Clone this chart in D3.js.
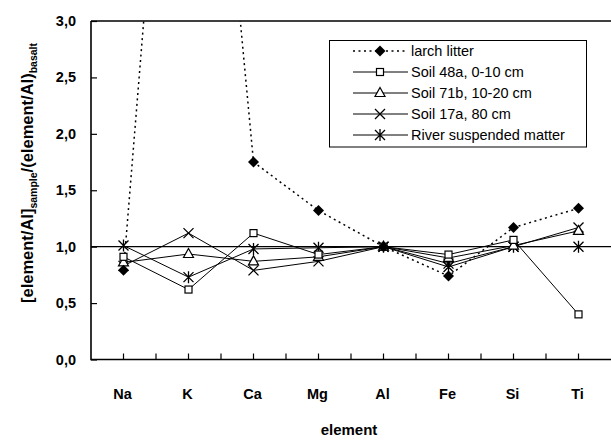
<!DOCTYPE html>
<html lang="en">
<head>
  <meta charset="UTF-8" />
  <title>Element ratios</title>
  <script src="https://d3js.org/d3.v7.min.js"></script>
  <style>
    body { margin: 0; padding: 0; background: #fff; }
    svg { display: block; font-family: "Liberation Sans", Arial, sans-serif; }
    .tick-label { font-size: 14.5px; font-weight: bold; }
    .legend-text { font-size: 14.5px; }
  </style>
</head>
<body>
  <svg id="chart" width="611" height="441"></svg>
  <script>
    const elements = ["Na", "K", "Ca", "Mg", "Al", "Fe", "Si", "Ti"];
    const seriesNames = ["larch litter", "Soil 48a, 0-10 cm", "Soil 71b, 10-20 cm", "Soil 17a, 80 cm", "River suspended matter"];
    const larchLitter = [0.79, 7.9, 1.75, 1.32, 1.0, 0.74, 1.17, 1.34];
    const soil48a = [0.91, 0.62, 1.12, 0.93, 1.0, 0.93, 1.06, 0.40];
    const soil71b = [0.86, 0.935, 0.87, 0.91, 1.0, 0.90, 1.01, 1.14];
    const soil17a = [0.83, 1.12, 0.79, 0.87, 1.0, 0.85, 1.0, 1.17];
    const river = [1.01, 0.73, 0.98, 0.99, 1.0, 0.82, 1.0, 1.0];
    const yTicks = [0, 0.5, 1, 1.5, 2, 2.5, 3];

    const series = [
      { name: seriesNames[0], values: larchLitter, marker: "diamond", dash: "2,3.5", width: 1.5 },
      { name: seriesNames[1], values: soil48a, marker: "square", dash: null, width: 1 },
      { name: seriesNames[2], values: soil71b, marker: "triangle", dash: null, width: 1 },
      { name: seriesNames[3], values: soil17a, marker: "cross", dash: null, width: 1 },
      { name: seriesNames[4], values: river, marker: "star", dash: null, width: 1 }
    ];

    const svg = d3.select("#chart");
    const plotLeft = 91, plotRight = 611, plotTop = 21, plotBottom = 359.5;

    const x = d3.scaleBand().domain(elements).range([plotLeft, plotRight]);
    const y = d3.scaleLinear().domain([0, 3]).range([plotBottom, plotTop]);
    const cx = d => x(d) + x.bandwidth() / 2;

    // markers drawn as small paths centred at 0,0
    function drawMarker(g, type) {
      if (type === "diamond") {
        g.append("path").attr("d", "M0,-5.5L5.5,0L0,5.5L-5.5,0Z").attr("fill", "#000");
      } else if (type === "square") {
        g.append("rect").attr("x", -3.5).attr("y", -3.5).attr("width", 7).attr("height", 7)
          .attr("fill", "#fff").attr("stroke", "#000").attr("stroke-width", 1.2);
      } else if (type === "triangle") {
        g.append("path").attr("d", "M0,-5.5L5,3.5L-5,3.5Z")
          .attr("fill", "#fff").attr("stroke", "#000").attr("stroke-width", 1.2);
      } else if (type === "cross") {
        g.append("path").attr("d", "M-5,-5L5,5M-5,5L5,-5")
          .attr("stroke", "#000").attr("stroke-width", 1.3);
      } else if (type === "star") {
        g.append("path").attr("d", "M-5,-5L5,5M-5,5L5,-5M0,-6L0,6")
          .attr("stroke", "#000").attr("stroke-width", 1.3);
      }
    }

    svg.append("defs").append("clipPath").attr("id", "plotClip")
      .append("rect").attr("x", plotLeft).attr("y", plotTop)
      .attr("width", plotRight - plotLeft).attr("height", plotBottom - plotTop);

    // reference line at 1,0
    svg.append("line")
      .attr("x1", plotLeft).attr("x2", plotRight)
      .attr("y1", y(1)).attr("y2", y(1))
      .attr("stroke", "#000").attr("stroke-width", 1.2);

    const plot = svg.append("g").attr("clip-path", "url(#plotClip)");
    const line = d3.line().x((d, i) => cx(elements[i])).y(d => y(d));

    series.forEach(s => {
      plot.append("path")
        .datum(s.values)
        .attr("d", line)
        .attr("fill", "none")
        .attr("stroke", "#000")
        .attr("stroke-width", s.width)
        .attr("stroke-dasharray", s.dash);
    });

    series.slice().reverse().forEach(s => {
      s.values.forEach((v, i) => {
        if (v > 3) return;
        const g = plot.append("g").attr("transform", `translate(${cx(elements[i])},${y(v)})`);
        drawMarker(g, s.marker);
      });
    });

    // x ticks (inward) at category centres and boundaries
    const tickXs = [];
    elements.forEach((e, i) => {
      if (i > 0) tickXs.push(x(e));
      tickXs.push(cx(e));
    });
    svg.append("g").selectAll("line").data(tickXs).enter().append("line")
      .attr("x1", d => d).attr("x2", d => d)
      .attr("y1", plotBottom).attr("y2", plotBottom - 6)
      .attr("stroke", "#000").attr("stroke-width", 1.2);

    svg.append("g").selectAll("text").data(elements).enter().append("text")
      .attr("class", "tick-label")
      .attr("x", d => cx(d) - 1)
      .attr("y", 399)
      .attr("text-anchor", "middle")
      .text(d => d);

    const yAxis = svg.append("g").attr("transform", `translate(${plotLeft},0)`)
      .call(d3.axisRight(y).tickValues(yTicks).tickSize(6).tickFormat(""));
    yAxis.select(".domain").remove();
    yAxis.selectAll("line").attr("stroke-width", 1.2);

    svg.append("g").selectAll("text").data(yTicks).enter().append("text")
      .attr("class", "tick-label")
      .attr("x", 76)
      .attr("y", d => y(d) + 5)
      .attr("text-anchor", "end")
      .text(d => d3.format(".1f")(d).replace(".", ","));

    // plot frame
    svg.append("path")
      .attr("d", `M${plotLeft},${plotTop}L${plotRight},${plotTop}M${plotLeft},${plotTop}L${plotLeft},${plotBottom}L${plotRight},${plotBottom}`)
      .attr("fill", "none").attr("stroke", "#000").attr("stroke-width", 1.6);

    // axis titles
    svg.append("text")
      .attr("x", (plotLeft + plotRight) / 2 - 2)
      .attr("y", 435)
      .attr("text-anchor", "middle")
      .style("font-size", "15px").style("font-weight", "bold")
      .text("element");

    const yTitle = svg.append("text")
      .attr("transform", "translate(33,173) rotate(-90)")
      .attr("text-anchor", "middle")
      .style("font-size", "16.5px").style("font-weight", "bold");
    yTitle.append("tspan").text("[element/Al]");
    yTitle.append("tspan").attr("dy", 4).style("font-size", "10.5px").text("sample");
    yTitle.append("tspan").attr("dy", -4).text("/(element/Al)");
    yTitle.append("tspan").attr("dy", 4).style("font-size", "10.5px").text("basalt");

    // legend
    const legend = svg.append("g");
    legend.append("rect")
      .attr("x", 329.5).attr("y", 40.5).attr("width", 257).attr("height", 106.5)
      .attr("fill", "#fff").attr("stroke", "#000").attr("stroke-width", 1);
    series.forEach((s, i) => {
      const ly = 51 + i * 21;
      legend.append("line")
        .attr("x1", 353).attr("x2", 408).attr("y1", ly).attr("y2", ly)
        .attr("stroke", "#000").attr("stroke-width", s.width)
        .attr("stroke-dasharray", s.dash);
      drawMarker(legend.append("g").attr("transform", `translate(380,${ly})`), s.marker);
      legend.append("text")
        .attr("class", "legend-text")
        .attr("x", 411).attr("y", ly + 5)
        .text(s.name);
    });
  </script>
</body>
</html>
